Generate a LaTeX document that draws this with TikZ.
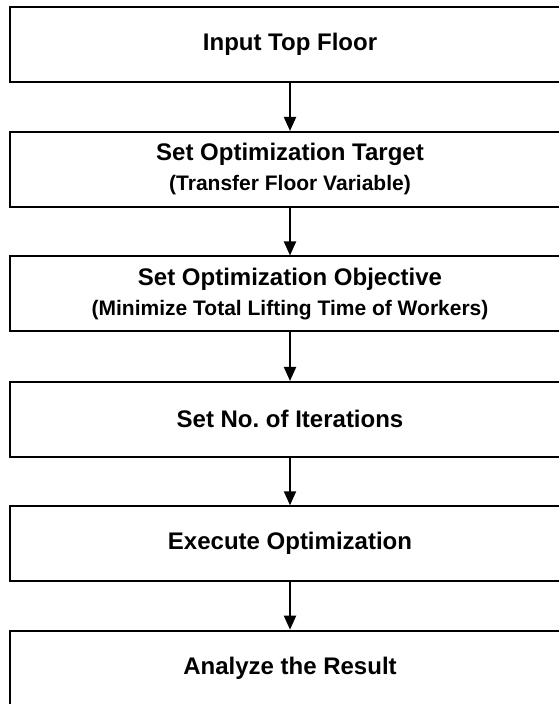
\documentclass[tikz,border=0pt]{standalone}
\usepackage{fontspec}
\setmainfont{Liberation Sans}
\usetikzlibrary{arrows.meta}
\frenchspacing

\newcommand{\subtxt}[1]{{\fontsize{15.75}{22}\selectfont #1}}

\tikzset{
  stepbox/.style={draw, line width=1.5pt, minimum width=420pt, minimum height=56pt,
    inner sep=0pt, align=center, font=\bfseries\fontsize{18}{22.5}\selectfont},
  flowarrow/.style={line width=1.5pt, -{Triangle[length=10.5pt,width=9pt]}}
}

\begin{document}
\begin{tikzpicture}[x=0.75pt, y=-0.75pt]
    \useasboundingbox (0,0) rectangle (559,704);
    % steps
    \node[stepbox] (top)   at (290,44.5)  {Input Top Floor};
    \node[stepbox] (target) at (290,169.3) {Set Optimization Target\\\subtxt{(Transfer Floor Variable)}};
    \node[stepbox] (obj)   at (290,293.8) {Set Optimization Objective\\\subtxt{(Minimize Total Lifting Time of Workers)}};
    \node[stepbox] (iter)  at (290,419.3) {Set No. of Iterations};
    \node[stepbox] (exec)  at (290,543.6) {Execute Optimization};
    \node[stepbox] (result) at (290,668)  {Analyze the Result};
    % arrows
    \draw[flowarrow] (top) -- (target);
    \draw[flowarrow] (target) -- (obj);
    \draw[flowarrow] (obj) -- (iter);
    \draw[flowarrow] (iter) -- (exec);
    \draw[flowarrow] (exec) -- (result);
\end{tikzpicture}
\end{document}
